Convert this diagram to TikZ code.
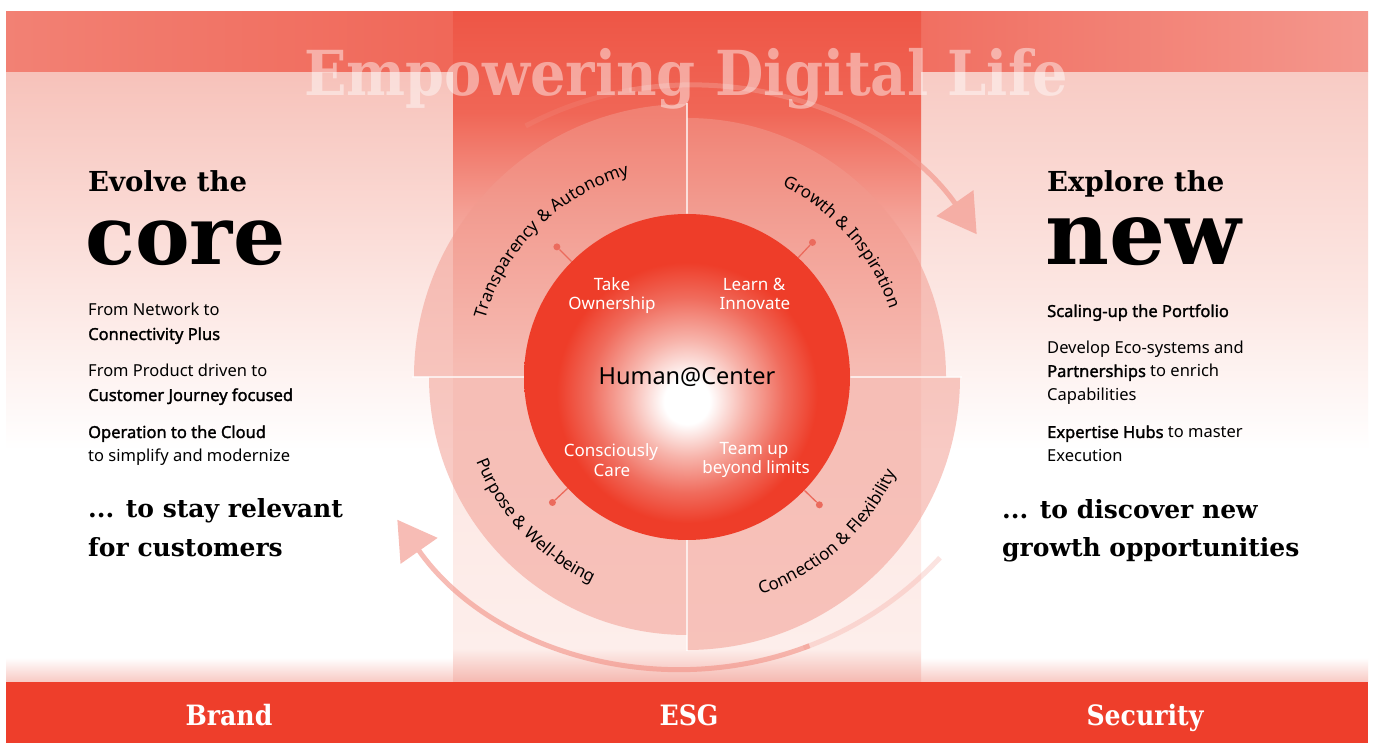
\documentclass[tikz,border=0pt]{standalone}
\usepackage{fontspec}
\setmainfont{Noto Sans}[AutoFakeBold=1.6]
\newfontfamily\slabfont{DejaVu Serif}
\newfontfamily\slabcond{DejaVu Serif Condensed}
\usetikzlibrary{positioning, arrows.meta, decorations.text}

\definecolor{barred}{HTML}{EE3E2B}
\definecolor{ballred}{HTML}{EE3D29}
\definecolor{ballmid}{HTML}{F06B5C}
\definecolor{ballpale}{HTML}{F7B4AB}
\definecolor{bandleft}{HTML}{F28174}
\definecolor{bandmid}{HTML}{EF5A4A}
\definecolor{bandright}{HTML}{F4978D}
\definecolor{ringpink}{HTML}{F29A8E}
\definecolor{dotred}{HTML}{EB6B5D}
\definecolor{flowpink}{HTML}{F29084}
\definecolor{panelpink}{HTML}{F7C2BA}
\definecolor{panelpinkr}{HTML}{F8CBC4}
\definecolor{panelpale}{HTML}{FCE6E2}
\definecolor{glowpink}{HTML}{F8C9C3}
\definecolor{coltop}{HTML}{EE5646}
\definecolor{colupper}{HTML}{F06656}
\definecolor{colmid}{HTML}{F4A095}
\definecolor{collow}{HTML}{FCE6E2}
\definecolor{colbase}{HTML}{FDEEEB}
\definecolor{colglow}{HTML}{F5B8B0}

\pgfdeclareverticalshading{leftpanel}{100bp}{color(0bp)=(glowpink); color(25bp)=(glowpink); color(27bp)=(white); color(44bp)=(white); color(57bp)=(panelpale); color(75bp)=(panelpink); color(100bp)=(panelpink)}
\pgfdeclareverticalshading{rightpanel}{100bp}{color(0bp)=(glowpink); color(25bp)=(glowpink); color(27bp)=(white); color(44bp)=(white); color(57bp)=(panelpale); color(75bp)=(panelpinkr); color(100bp)=(panelpinkr)}
\pgfdeclareverticalshading{columnshade}{100bp}{color(0bp)=(colglow); color(25bp)=(colglow); color(27.5bp)=(colbase); color(47.5bp)=(collow); color(60bp)=(colmid); color(67.5bp)=(colupper); color(75bp)=(coltop); color(100bp)=(coltop)}
\pgfdeclareradialshading{ballshade}{\pgfpoint{0bp}{-4bp}}{color(0bp)=(white); color(3.5bp)=(white); color(9bp)=(ballpale); color(15bp)=(ballmid); color(20bp)=(ballred); color(50bp)=(ballred)}

\newcommand\ringfont{\fontsize{17}{19}\selectfont}

\begin{document}
\begin{tikzpicture}[
        x=1pt, y=1pt,
        >={Triangle[width=44pt, length=38pt]},
        body/.style={font=\fontsize{16.5}{19}\selectfont, anchor=base west, inner sep=0pt},
        slabline/.style={font=\slabfont\bfseries\fontsize{25}{28}\selectfont, anchor=base west, inner sep=0pt},
        slabhead/.style={font=\slabfont\bfseries\fontsize{27.5}{30}\selectfont, anchor=base west, inner sep=0pt},
        slabbig/.style={font=\slabfont\bfseries\fontsize{82}{86}\selectfont, anchor=base west, inner sep=0pt},
        motto/.style={font=\slabfont\bfseries\fontsize{62}{66}\selectfont, text=white, text opacity=0.45, anchor=base, inner sep=0pt},
        inball/.style={font=\fontsize{17}{19}\selectfont, text=white, anchor=base, inner sep=0pt},
        hubtext/.style={font=\fontsize{23.5}{26}\selectfont, anchor=base, inner sep=0pt},
        barlabel/.style={font=\slabcond\bfseries\fontsize{28}{30}\selectfont, text=white, anchor=base, inner sep=0pt},
        ball/.style={circle, minimum size=326pt, inner sep=0pt, shade, shading=ballshade},
        ring/.style={fill=ringpink, fill opacity=0.52},
        gapline/.style={draw=white, line width=1.5pt, opacity=0.7},
        dot/.style={circle, fill=dotred, minimum size=7pt, inner sep=0pt},
        dotline/.style={draw=dotred, line width=1.3pt},
        flow/.style={draw=flowpink, line width=5pt},
        ringlabel/.style={decorate, decoration={text along path, text align=center, text={#1}}},
    ]

    % canvas
    \fill[white] (0,0) rectangle (1375,743);
    \useasboundingbox (0,0) rectangle (1375,743);

    % side panels, top band, central column, bottom bar
    \shade[shading=leftpanel] (6,61) rectangle (453,671);
    \shade[shading=rightpanel] (921,61) rectangle (1368,671);
    \shade[left color=bandleft, right color=bandright, middle color=bandmid] (6,671) rectangle (1368,731);
    \shade[shading=columnshade] (453,61) rectangle (921,731);
    \fill[barred] (6,0) rectangle (1368,61);

    \coordinate (hub) at (687,366);
    \coordinate (topc) at (690,308);
    \coordinate (botc) at (684,424);

    % the two turning arrows
    \draw[flow, opacity=0.25] ([shift={(118:350)}]topc) arc[start angle=118, end angle=99, radius=350];
    \begin{scope}[transparency group, opacity=0.6]
        \draw[flow, ->] ([shift={(100:350)}]topc) arc[start angle=100, end angle=35, radius=350];
    \end{scope}
    \draw[flow, opacity=0.25] ([shift={(-43:350)}]botc) arc[start angle=-43, end angle=-70, radius=350];
    \begin{scope}[transparency group, opacity=0.6]
        \draw[flow, ->] ([shift={(-69:350)}]botc) arc[start angle=-69, end angle=-145, radius=350];
    \end{scope}

    % the four quarter rings
    \foreach \sa/\rr in {90/273, 0/259, 180/258, 270/273}
        \fill[ring] (hub) -- ++(\sa:\rr) arc[start angle=\sa, delta angle=90, radius=\rr] -- cycle;
    \draw[gapline] ([yshift=274pt]hub) -- ([yshift=-274pt]hub);
    \draw[gapline] ([xshift=-275pt]hub) -- ([xshift=275pt]hub);

    % the ball and its spokes
    \node[ball] (ball) at (hub) {};
    \foreach \ang in {135,47,223,316} {
        \node[dot] (d\ang) at ([shift={(\ang:184)}]hub) {};
        \draw[dotline] (ball.\ang) -- (d\ang);
    }

    \node[inball] (take) at (612,452) {Take};
    \node[inball] (own) at (612,433) {Ownership};
    \node[inball] (learn) at (754,452) {Learn \&};
    \node[inball] (innov) at (755,433) {Innovate};
    \node[hubtext] (human) at (687,358) {Human@Center};
    \node[inball] (consc) at (611,286) {Consciously};
    \node[inball] (care) at (612,266) {Care};
    \node[inball] (team) at (754,288) {Team up};
    \node[inball] (beyond) at (756,269) {beyond limits};

    % labels along the rings
    \path[ringlabel={|\ringfont|Transparency {\&} Autonomy}] ([shift={(175:210)}]hub) arc[start angle=175, end angle=95, radius=210];
    \path[ringlabel={|\ringfont|Growth {\&} Inspiration}] ([shift={(81:214)}]hub) arc[start angle=81, end angle=1, radius=214];
    \path[ringlabel={|\ringfont|Purpose {\&} Well-being}] ([shift={(183:227)}]hub) arc[start angle=183, end angle=264, radius=227];
    \path[ringlabel={|\ringfont|Connection {\&} Flexibility}] ([shift={(-88:230)}]hub) arc[start angle=-88, end angle=-8, radius=230];

    % title
    \node[motto] (title) at (686,647) {\scalebox{0.9}[1]{Empowering Digital Life}};

    % left column
    \node[slabhead] (evolve) at (88,551) {Evolve the};
    \node[slabbig] (core) at (85,478) {core};
    \foreach \txt/\yy in {From Network to/427, \textbf{Connectivity Plus}/403,
            From Product driven to/366, \textbf{Customer Journey focused}/342,
            \textbf{Operation to the Cloud}/305, to simplify and modernize/281}
        \node[body] (left-\yy) at (88,\yy) {\txt};
    \node[slabline] (stay) at (88,225) {... to stay relevant};
    \node[slabline] (cust) at (88,186) {for customers};

    % right column
    \node[slabhead] (explore) at (1047,551) {Explore the};
    \node[slabbig, font=\slabfont\bfseries\fontsize{88}{92}\selectfont] (new) at (1045,478) {new};
    \foreach \txt/\yy in {\textbf{Scaling-up the Portfolio}/426, Develop Eco-systems and/389,
            \textbf{Partnerships} to enrich/366, Capabilities/342,
            \textbf{Expertise Hubs} to master/305, Execution/281}
        \node[body] (right-\yy) at (1047,\yy) {\txt};
    \node[slabline] (discover) at (1002,224) {... to discover new};
    \node[slabline] (growth) at (1002,186) {growth opportunities};

    % bottom bar
    \node[barlabel] (brand) at (229,17) {Brand};
    \node[barlabel] (esg) at (689,17) {ESG};
    \node[barlabel] (security) at (1145,17) {Security};
\end{tikzpicture}
\end{document}
